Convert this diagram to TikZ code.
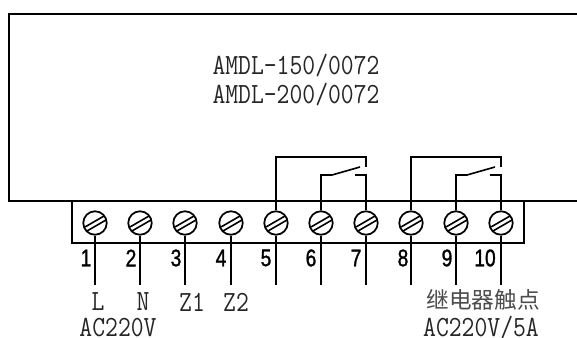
\documentclass[tikz,border=0pt]{standalone}
\usepackage{fontspec}
\newfontfamily\latinmono[FakeStretch=0.85]{Latin Modern Mono}
\newfontfamily\numfont[FakeStretch=0.8,FakeBold=1.2]{Liberation Sans}
\newfontfamily\cjk{Noto Sans CJK SC}
\tikzset{
  x=0.75pt,y=-0.75pt,
  wire/.style={draw=black,line width=1.2pt},
  frame/.style={draw=black,line width=1.2pt},
  screw/.style={circle,draw=black,line width=1.3pt,minimum size=17.6pt,inner sep=0pt,fill=white},
  lbl/.style={inner sep=0pt,font=\latinmono\fontsize{22pt}{24pt}\selectfont,text=black!85},
  cjklbl/.style={inner sep=0pt,font=\cjk\fontsize{17pt}{19pt}\selectfont,text=black!70},
  num/.style={inner sep=0pt,font=\numfont\fontsize{18pt}{19pt}\selectfont},
}
\begin{document}
\begin{tikzpicture}
\useasboundingbox (0,0) rectangle (577,338);
\fill[white] (0,0) rectangle (577,338);
% frames
\draw[frame] (577,14) -- (9,14) -- (9,201) -- (577,201);
\draw[frame] (72,201) -- (72,243) -- (524,243) -- (524,201);
% screws
\foreach \n/\x in {s1/95,s2/140,s3/185,s4/231,s5/276,s6/321,s7/366,s8/411,s9/456,s10/501}{
  \node[screw] (\n) at (\x,223) {};
  \draw[line width=1.2pt] (\x-10,227) -- (\x+9,216);
  \draw[line width=1.2pt] (\x-8,231) -- (\x+11,220);
}
% bottom wire ends
\foreach \n/\x in {1/95,2/140,3/185,4/231,5/276,6/321,7/366,8/411,9/456,10/501}{
  \coordinate (e\n) at (\x,285);
  \draw[wire] (s\n.south) -- (e\n);
}
% relays
\coordinate (a1) at (276,157); \coordinate (a2) at (366,157); \coordinate (a3) at (366,167);
\coordinate (a4) at (321,175); \coordinate (a5) at (332,175); \coordinate (a6) at (360,167);
\coordinate (a7) at (366,175); \coordinate (a8) at (355,175);
\draw[wire] (s5.north) -- (a1) -- (a2) -- (a3);
\draw[wire] (s6.north) -- (a4) -- (a5) -- (a6);
\draw[wire] (s7.north) -- (a7) -- (a8);
\coordinate (b1) at (411,157); \coordinate (b2) at (501,157); \coordinate (b3) at (501,167);
\coordinate (b4) at (456,175); \coordinate (b5) at (467,175); \coordinate (b6) at (495,167);
\coordinate (b7) at (501,175); \coordinate (b8) at (490,175);
\draw[wire] (s8.north) -- (b1) -- (b2) -- (b3);
\draw[wire] (s9.north) -- (b4) -- (b5) -- (b6);
\draw[wire] (s10.north) -- (b7) -- (b8);
% numbers
\foreach \t/\x in {1/86,2/131,3/176,4/221,5/266,6/311,7/356,8/403,9/447,10/485}{
  \node[num] (n\t) at (\x,258) {\t};
}
% texts
\node[lbl] (t1) at (296,66) {AMDL-150/0072};
\node[lbl] (t2) at (296,95) {AMDL-200/0072};
\node[lbl] (l1) at (98,302) {L};
\node[lbl] (l2) at (143,302) {N};
\node[lbl] (l3) at (192,302) {Z1};
\node[lbl] (l4) at (236,302) {Z2};
\node[lbl] (l5) at (118,327.5) {AC220V};
\node[cjklbl] (l6) at (483,300) {继电器触点};
\node[lbl] (l7) at (481,327.5) {AC220V/5A};
\end{tikzpicture}
\end{document}
